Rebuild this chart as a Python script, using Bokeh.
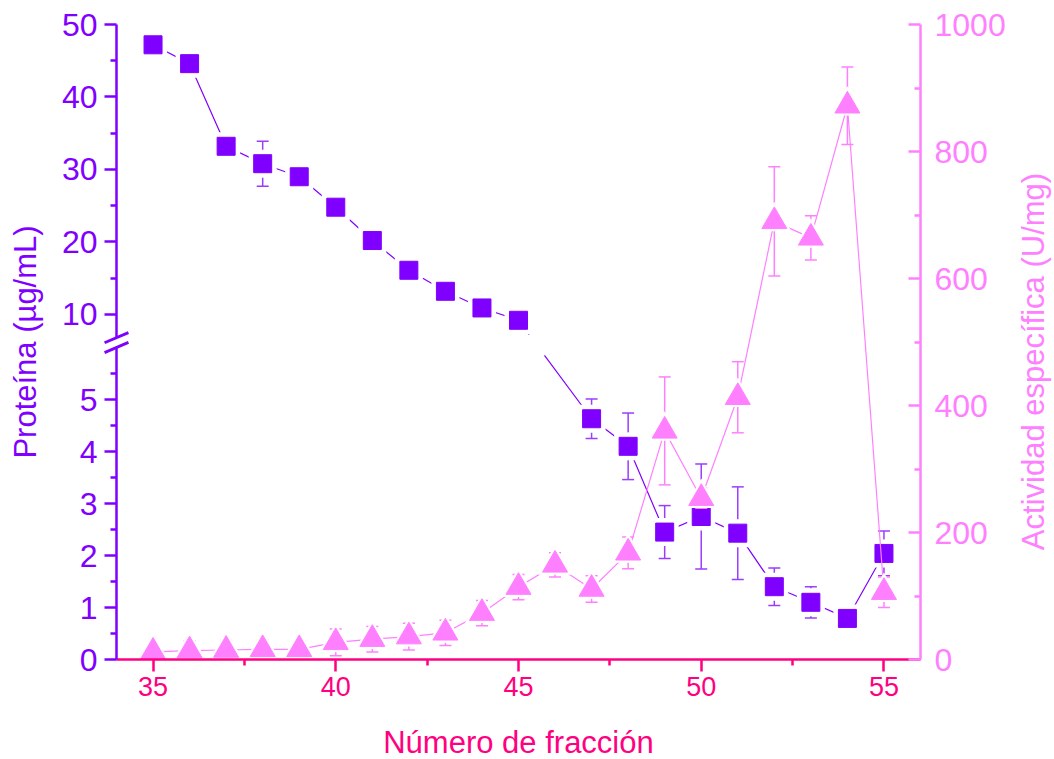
import math
from bokeh.plotting import figure
from bokeh.models import (Range1d, LinearAxis, FixedTicker, Label)
from bokeh.embed import file_html
from bokeh.resources import INLINE

# ---------------- data ----------------
fraction = list(range(35, 56))
protein_x = [35, 36, 37, 38, 39, 40, 41, 42, 43, 44, 45, 47, 48, 49, 50, 51, 52, 53, 54, 55]
protein = [47.2, 44.6, 33.2, 30.8, 29.0, 24.8, 20.2, 16.1, 13.2, 10.9, 9.2,
           4.63, 4.10, 2.45, 2.75, 2.43, 1.40, 1.10, 0.79, 2.04]
protein_err = [0, 0, 0, 3.1, 1.7, 0, 0, 0, 0, 0, 0,
               0.38, 0.64, 0.51, 1.01, 0.89, 0.36, 0.30, 0, 0.43]
activity = [12, 14, 15, 16, 16, 27, 32, 36, 42, 73, 114, 149, 111, 168, 360,
            254, 413, 690, 664, 872, 106]
activity_err = [6, 15, 15, 14, 13, 21, 20, 21, 20, 20, 20, 19, 21, 25, 85,
                16, 56, 86, 35, 61, 24]

left_low_ticks = [0, 1, 2, 3, 4, 5]
left_low_minor = [0.5, 1.5, 2.5, 3.5, 4.5, 5.5]
left_high_ticks = [10, 20, 30, 40, 50]
left_high_minor = [15, 25, 35, 45]
right_ticks = [0, 200, 400, 600, 800, 1000]
right_minor = [100, 300, 500, 700, 900]
x_ticks = [35, 40, 45, 50, 55]
x_minor = [37.5, 42.5, 47.5, 52.5]

# ---------------- broken axis mapping ----------------
LOW_MAX = 6.0      # top of lower segment (value)
HIGH_MIN = 6.8     # bottom of upper segment (value)
SPLIT = 10.0
UP_BASE = 6.635    # position of value 10 on the plot's scale
UP_SCALE = 7.25 / 52.0


def ypos(v):
    return v if v <= (LOW_MAX + HIGH_MIN) / 2 else UP_BASE + (v - SPLIT) * UP_SCALE


PURPLE = "#8000FF"
PURPLE_ERR = "#9A3DFF"
PINK = "#FF80FF"
XCOL = "#FF0080"
FONT = "Liberation Sans"

FW, FH = 804, 635
X0, X1 = 34, 56
Y1 = ypos(50)
pxu = FW / (X1 - X0)
pyu = FH / Y1

p = figure(frame_width=FW, frame_height=FH, x_range=Range1d(X0, X1),
           y_range=Range1d(0, Y1), output_backend="svg", toolbar_location=None,
           min_border_left=116, min_border_right=134, min_border_top=24,
           min_border_bottom=100)
p.extra_y_ranges = {"act": Range1d(0, 1000)}
p.outline_line_color = None
p.xgrid.visible = False
p.ygrid.visible = False
p.background_fill_color = "white"
p.border_fill_color = "white"

# ---------------- purple series (protein) ----------------
py = [ypos(v) for v in protein]
brk_hi = ypos(HIGH_MIN) + 0.06
brk_lo = ypos(LOW_MAX) - 0.15
xs, ys = [], []
cur_x, cur_y = [protein_x[0]], [py[0]]
for i in range(1, len(protein_x)):
    xa, ya, xb, yb = protein_x[i - 1], py[i - 1], protein_x[i], py[i]
    if ya > brk_hi and yb < brk_lo:
        t1 = (ya - brk_hi) / (ya - yb)
        t2 = (ya - brk_lo) / (ya - yb)
        cur_x.append(xa + t1 * (xb - xa)); cur_y.append(brk_hi)
        xs.append(cur_x); ys.append(cur_y)
        cur_x = [xa + t2 * (xb - xa), xb]; cur_y = [brk_lo, yb]
    else:
        cur_x.append(xb); cur_y.append(yb)
xs.append(cur_x); ys.append(cur_y)
p.multi_line(xs, ys, line_color=PURPLE, line_width=1.2)

ex = [x for x, e in zip(protein_x, protein_err) if e > 0]
elo = [ypos(v - e) for v, e in zip(protein, protein_err) if e > 0]
ehi = [ypos(v + e) for v, e in zip(protein, protein_err) if e > 0]
p.segment(ex, elo, ex, ehi, line_color=PURPLE_ERR, line_width=1.5)
p.scatter(ex + ex, elo + ehi, marker="dash", size=12, line_color=PURPLE_ERR, line_width=1.5)
p.scatter(protein_x, py, marker="square", size=28, fill_color="white", line_color=None)
p.scatter(protein_x, py, marker="square", size=18, fill_color=PURPLE, line_color=PURPLE,
          line_width=1)

# ---------------- pink series (activity) ----------------
p.line(fraction, activity, line_color=PINK, line_width=1.2, y_range_name="act")
alo = [v - e for v, e in zip(activity, activity_err)]
ahi = [v + e for v, e in zip(activity, activity_err)]
p.segment(fraction, alo, fraction, ahi, line_color=PINK, line_width=1.5, y_range_name="act")
p.scatter(fraction + fraction, alo + ahi, marker="dash", size=12, line_color=PINK,
          line_width=1.5, y_range_name="act")
p.scatter(fraction, activity, marker="triangle", size=34, fill_color="white",
          line_color=None, y_range_name="act")
p.scatter(fraction, activity, marker="triangle", size=25, fill_color=PINK,
          line_color=PINK, y_range_name="act")

# ---------------- axes ----------------
xa = p.xaxis[0]
xa.ticker = FixedTicker(ticks=x_ticks, minor_ticks=x_minor)
xa.axis_label = "Número de fracción"
xa.axis_line_color = XCOL
xa.major_tick_line_color = XCOL
xa.minor_tick_line_color = XCOL
xa.major_label_text_color = XCOL
xa.axis_label_text_color = XCOL
xa.axis_line_width = 2.5
xa.major_tick_line_width = 2.5
xa.minor_tick_line_width = 2.5
xa.major_tick_out = 12
xa.major_tick_in = 0
xa.minor_tick_out = 6
xa.minor_tick_in = 0
xa.major_label_text_font = FONT
xa.major_label_text_font_size = "27px"
xa.major_label_standoff = 5
xa.axis_label_text_font = FONT
xa.axis_label_text_font_size = "31px"
xa.axis_label_text_font_style = "normal"
xa.axis_label_standoff = 26

ya = p.yaxis[0]
major_pos = [ypos(v) for v in left_low_ticks + left_high_ticks]
minor_pos = [ypos(v) for v in left_low_minor + left_high_minor]
ya.ticker = FixedTicker(ticks=major_pos, minor_ticks=minor_pos)
ya.major_label_overrides = {float(ypos(v)): str(v) for v in left_low_ticks + left_high_ticks}
ya.axis_label = "Proteína (µg/mL)"
ya.axis_line_color = PURPLE
ya.major_tick_line_color = PURPLE
ya.minor_tick_line_color = PURPLE
ya.major_label_text_color = PURPLE
ya.axis_label_text_color = PURPLE
ya.axis_line_width = 2.5
ya.major_tick_line_width = 2.5
ya.minor_tick_line_width = 2.5
ya.major_tick_out = 12
ya.major_tick_in = 0
ya.minor_tick_out = 6
ya.minor_tick_in = 0
ya.major_label_text_font = FONT
ya.major_label_text_font_size = "32px"
ya.major_label_standoff = 7
ya.axis_label_text_font = FONT
ya.axis_label_text_font_size = "31px"
ya.axis_label_text_font_style = "normal"
ya.axis_label_standoff = 16

ra = LinearAxis(y_range_name="act", ticker=FixedTicker(ticks=right_ticks, minor_ticks=right_minor))
ra.axis_line_color = PINK
ra.major_tick_line_color = PINK
ra.minor_tick_line_color = PINK
ra.major_label_text_color = PINK
ra.axis_line_width = 2.5
ra.major_tick_line_width = 2.5
ra.minor_tick_line_width = 2.5
ra.major_tick_in = 12
ra.major_tick_out = 0
ra.minor_tick_in = 6
ra.minor_tick_out = 0
ra.major_label_text_font = FONT
ra.major_label_text_font_size = "32px"
ra.major_label_standoff = 14
p.add_layout(ra, "right")

# right axis title, reading bottom-to-top as in the original
p.add_layout(Label(x=X1 + 113 / pxu, y=(659 - 361) / pyu, text="Actividad específica (U/mg)",
                   angle=math.pi / 2, text_align="center", text_baseline="middle",
                   text_font=FONT, text_font_size="31px", text_color=PINK), "right")

# ---------------- axis break marks ----------------
y_gap = (ypos(LOW_MAX) + ypos(HIGH_MIN)) / 2
p.add_layout(Label(x=X0, y=y_gap, text="\u2003", text_font=FONT, text_font_size="9px",
                   text_align="center", text_baseline="middle",
                   background_fill_color="white", background_fill_alpha=1.0), "right")
for v in [LOW_MAX, HIGH_MIN]:
    p.add_layout(Label(x=X0, y=ypos(v), text="\u2003" * 10, text_font=FONT,
                       text_font_size="2.6px", text_align="center", text_baseline="middle",
                       angle=math.atan2(11, 26), background_fill_color=PURPLE,
                       background_fill_alpha=1.0), "right")

open("out.html", "w").write(file_html(p, INLINE))
